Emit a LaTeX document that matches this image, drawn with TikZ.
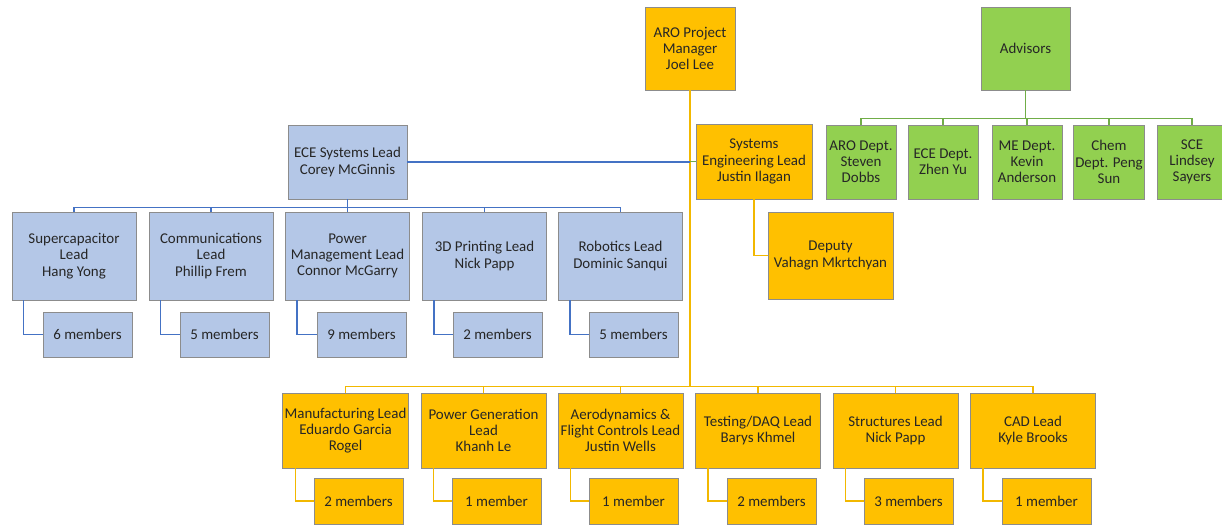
\documentclass[tikz,border=0pt]{standalone}
\usepackage{fontspec}
\setmainfont{Carlito}
\definecolor{boxblue}{HTML}{B4C7E7}
\definecolor{lineblue}{HTML}{4472C4}
\definecolor{gold}{HTML}{FFC000}
\definecolor{goldline}{HTML}{F2B800}
\definecolor{leaf}{HTML}{92D050}
\definecolor{leafline}{HTML}{70AD47}
\definecolor{edge}{HTML}{8C8C8C}
\definecolor{txt}{HTML}{262626}

\begin{document}
\begin{tikzpicture}
  [x=0.2mm,y=-0.2mm,
   box/.style={rectangle,draw=edge,line width=0.5pt,align=center,inner sep=1pt,text=txt,
     font=\fontsize{8.5}{9.2}\selectfont},
   blu/.style={box,fill=boxblue},
   yel/.style={box,fill=gold},
   grn/.style={box,fill=leaf},
   lead/.style={minimum width=24.8mm,minimum height=17.6mm},
   flead/.style={minimum width=25mm,minimum height=15mm},
   mem/.style={minimum width=17.8mm,minimum height=9mm},
   bline/.style={draw=lineblue,line width=0.9pt},
   yline/.style={draw=goldline,line width=0.9pt},
   gline/.style={draw=leafline,line width=0.9pt}]
  \useasboundingbox (0,0) rectangle (1222,525);

  % top
  \node[yel,minimum width=18mm,minimum height=16.6mm] (pm) at (690,48.5) {ARO Project\\Manager\\Joel Lee};
  \node[grn,minimum width=17.8mm,minimum height=16.6mm] (adv) at (1025.5,48.5) {Advisors};

  % advisors
  \foreach \n/\x/\t in {aro/861/ARO Dept.\\Steven\\Dobbs, ecedept/943/ECE Dept.\\Zhen Yu,
      me/1027/ME Dept.\\Kevin\\Anderson, chem/1109/Chem\\Dept. Peng\\Sun, sce/1192/SCE\\Lindsey\\Sayers}
    \node[grn,minimum width=14mm,minimum height=14.8mm] (\n) at (\x,162) {\t};

  % systems engineering
  \node[yel,minimum width=23.2mm,minimum height=15mm] (se) at (754,161.5) {Systems\\Engineering Lead\\Justin Ilagan};
  \node[yel,minimum width=25mm,minimum height=17.4mm] (dep) at (830.5,255.5) {Deputy\\Vahagn Mkrtchyan};

  % ECE
  \node[blu,minimum width=23.8mm,minimum height=14.8mm] (ece) at (347.5,162) {ECE Systems Lead\\Corey McGinnis};
  \foreach \n/\x/\t in {sc/74/Supercapacitor\\Lead\\Hang Yong, com/211/Communications\\Lead\\Phillip Frem,
      pwr/347.5/Power\\Management Lead\\Connor McGarry, prt/484.5/3D Printing Lead\\Nick Papp,
      rob/620.5/Robotics Lead\\Dominic Sanqui}
    \node[blu,lead] (\n) at (\x,256) {\t};
  \foreach \n/\x/\t in {sc/87.5/6, com/224.5/5, pwr/361.5/9, prt/497.5/2, rob/633.5/5}
    \node[blu,mem] (\n-m) at (\x,334.5) {\t\ members};

  % ARO
  \foreach \n/\x/\t in {mfg/345.5/Manufacturing Lead\\Eduardo Garcia\\Rogel, gen/483.5/Power Generation\\Lead\\Khanh Le,
      aero/620.5/Aerodynamics \&\\Flight Controls Lead\\Justin Wells, daq/758/{Testing/DAQ Lead\\Barys Khmel},
      str/895.5/Structures Lead\\Nick Papp, cad/1033/CAD Lead\\Kyle Brooks}
    \node[yel,flead] (\n) at (\x,430.5) {\t};
  \foreach \n/\x/\t in {mfg/358.5/2 members, gen/496.5/1 member, aero/633.5/1 member,
      daq/771.5/2 members, str/908.5/3 members, cad/1046.5/1 member}
    \node[yel,mem,minimum height=9.2mm] (\n-m) at (\x,501) {\t};

  % connectors
  \foreach \c in {aro,ecedept,me,chem,sce}
    \draw[gline] (adv.south) -- ++(0,28) -| (\c.north);
  \foreach \c in {mfg,gen,aero,daq,str,cad}
    \draw[yline] (pm.south) -- ++(0,296) -| (\c.north);
  \foreach \c in {mfg,gen,aero,daq,str,cad}
    \draw[yline] ([xshift=2.6mm]\c.south west) |- (\c-m.west);
  \foreach \c in {sc,com,pwr,prt,rob}
    \draw[bline] (ece.south) -- ++(0,8) -| (\c.north);
  \foreach \c in {sc,com,pwr,prt,rob}
    \draw[bline] ([xshift=2.4mm]\c.south west) |- (\c-m.west);
  \draw[bline] (ece.east) -- (ece.east -| pm.south);
  \draw[gline] (se.west) -- (se.west -| pm.south);
  \draw[yline] (se.south) |- (dep.west);

\end{tikzpicture}
\end{document}
